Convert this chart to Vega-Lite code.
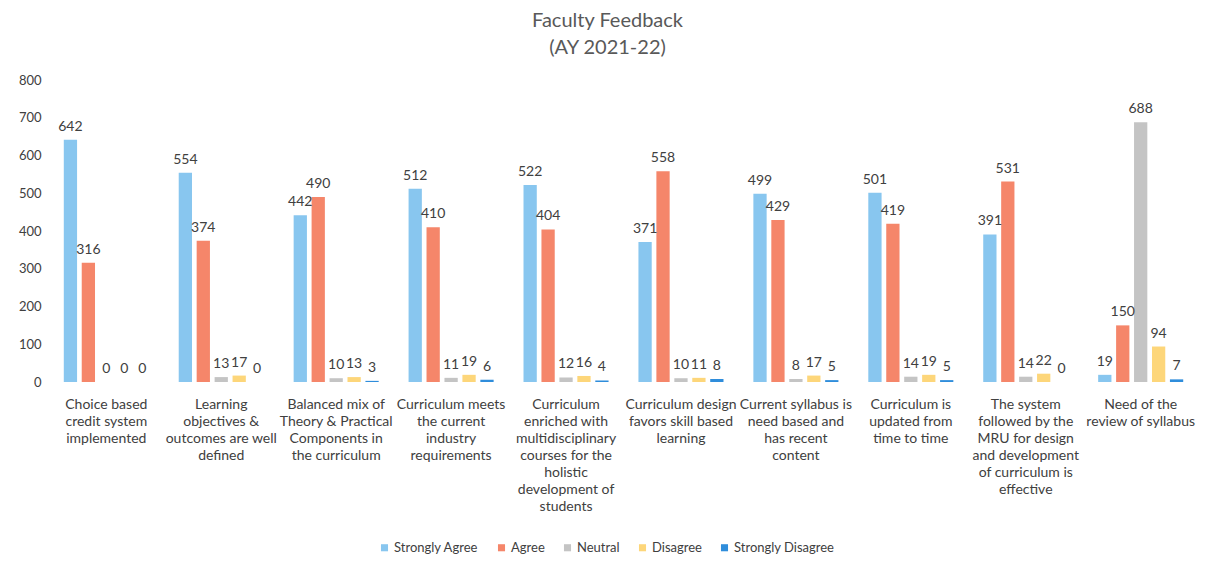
{
  "$schema": "https://vega.github.io/schema/vega-lite/v6.json",
  "autosize": "none",
  "width": 1147,
  "height": 302,
  "padding": {"left": 50, "top": 80, "right": 12, "bottom": 184},
  "background": "white",
  "title": {
    "text": ["Faculty Feedback", "(AY 2021-22)"],
    "fontSize": 20,
    "lineHeight": 27,
    "font": "Lato",
    "fontWeight": "normal",
    "color": "#595959",
    "anchor": "middle",
    "dx": -16,
    "offset": 16
  },
  "config": {
    "view": {"stroke": null},
    "font": "Lato"
  },
  "data": {
    "values": [
      {"q": "Choice based|credit system|implemented", "i": 1, "s": "Strongly Agree", "o": 1, "v": 642},
      {"q": "Choice based|credit system|implemented", "i": 1, "s": "Agree", "o": 2, "v": 316},
      {"q": "Choice based|credit system|implemented", "i": 1, "s": "Neutral", "o": 3, "v": 0},
      {"q": "Choice based|credit system|implemented", "i": 1, "s": "Disagree", "o": 4, "v": 0},
      {"q": "Choice based|credit system|implemented", "i": 1, "s": "Strongly Disagree", "o": 5, "v": 0},
      {"q": "Learning|objectives &|outcomes are well|defined", "i": 2, "s": "Strongly Agree", "o": 1, "v": 554},
      {"q": "Learning|objectives &|outcomes are well|defined", "i": 2, "s": "Agree", "o": 2, "v": 374},
      {"q": "Learning|objectives &|outcomes are well|defined", "i": 2, "s": "Neutral", "o": 3, "v": 13},
      {"q": "Learning|objectives &|outcomes are well|defined", "i": 2, "s": "Disagree", "o": 4, "v": 17},
      {"q": "Learning|objectives &|outcomes are well|defined", "i": 2, "s": "Strongly Disagree", "o": 5, "v": 0},
      {"q": "Balanced mix of|Theory & Practical|Components in|the curriculum", "i": 3, "s": "Strongly Agree", "o": 1, "v": 442},
      {"q": "Balanced mix of|Theory & Practical|Components in|the curriculum", "i": 3, "s": "Agree", "o": 2, "v": 490},
      {"q": "Balanced mix of|Theory & Practical|Components in|the curriculum", "i": 3, "s": "Neutral", "o": 3, "v": 10},
      {"q": "Balanced mix of|Theory & Practical|Components in|the curriculum", "i": 3, "s": "Disagree", "o": 4, "v": 13},
      {"q": "Balanced mix of|Theory & Practical|Components in|the curriculum", "i": 3, "s": "Strongly Disagree", "o": 5, "v": 3},
      {"q": "Curriculum meets|the  current|industry|requirements", "i": 4, "s": "Strongly Agree", "o": 1, "v": 512},
      {"q": "Curriculum meets|the  current|industry|requirements", "i": 4, "s": "Agree", "o": 2, "v": 410},
      {"q": "Curriculum meets|the  current|industry|requirements", "i": 4, "s": "Neutral", "o": 3, "v": 11},
      {"q": "Curriculum meets|the  current|industry|requirements", "i": 4, "s": "Disagree", "o": 4, "v": 19},
      {"q": "Curriculum meets|the  current|industry|requirements", "i": 4, "s": "Strongly Disagree", "o": 5, "v": 6},
      {"q": "Curriculum|enriched with|multidisciplinary|courses for the|holistic|development of|students", "i": 5, "s": "Strongly Agree", "o": 1, "v": 522},
      {"q": "Curriculum|enriched with|multidisciplinary|courses for the|holistic|development of|students", "i": 5, "s": "Agree", "o": 2, "v": 404},
      {"q": "Curriculum|enriched with|multidisciplinary|courses for the|holistic|development of|students", "i": 5, "s": "Neutral", "o": 3, "v": 12},
      {"q": "Curriculum|enriched with|multidisciplinary|courses for the|holistic|development of|students", "i": 5, "s": "Disagree", "o": 4, "v": 16},
      {"q": "Curriculum|enriched with|multidisciplinary|courses for the|holistic|development of|students", "i": 5, "s": "Strongly Disagree", "o": 5, "v": 4},
      {"q": "Curriculum design|favors skill based|learning", "i": 6, "s": "Strongly Agree", "o": 1, "v": 371},
      {"q": "Curriculum design|favors skill based|learning", "i": 6, "s": "Agree", "o": 2, "v": 558},
      {"q": "Curriculum design|favors skill based|learning", "i": 6, "s": "Neutral", "o": 3, "v": 10},
      {"q": "Curriculum design|favors skill based|learning", "i": 6, "s": "Disagree", "o": 4, "v": 11},
      {"q": "Curriculum design|favors skill based|learning", "i": 6, "s": "Strongly Disagree", "o": 5, "v": 8},
      {"q": "Current syllabus is|need based and|has recent|content", "i": 7, "s": "Strongly Agree", "o": 1, "v": 499},
      {"q": "Current syllabus is|need based and|has recent|content", "i": 7, "s": "Agree", "o": 2, "v": 429},
      {"q": "Current syllabus is|need based and|has recent|content", "i": 7, "s": "Neutral", "o": 3, "v": 8},
      {"q": "Current syllabus is|need based and|has recent|content", "i": 7, "s": "Disagree", "o": 4, "v": 17},
      {"q": "Current syllabus is|need based and|has recent|content", "i": 7, "s": "Strongly Disagree", "o": 5, "v": 5},
      {"q": "Curriculum is|updated from|time to time", "i": 8, "s": "Strongly Agree", "o": 1, "v": 501},
      {"q": "Curriculum is|updated from|time to time", "i": 8, "s": "Agree", "o": 2, "v": 419},
      {"q": "Curriculum is|updated from|time to time", "i": 8, "s": "Neutral", "o": 3, "v": 14},
      {"q": "Curriculum is|updated from|time to time", "i": 8, "s": "Disagree", "o": 4, "v": 19},
      {"q": "Curriculum is|updated from|time to time", "i": 8, "s": "Strongly Disagree", "o": 5, "v": 5},
      {"q": "The system|followed by the|MRU for design|and development|of curriculum is|effective", "i": 9, "s": "Strongly Agree", "o": 1, "v": 391},
      {"q": "The system|followed by the|MRU for design|and development|of curriculum is|effective", "i": 9, "s": "Agree", "o": 2, "v": 531},
      {"q": "The system|followed by the|MRU for design|and development|of curriculum is|effective", "i": 9, "s": "Neutral", "o": 3, "v": 14},
      {"q": "The system|followed by the|MRU for design|and development|of curriculum is|effective", "i": 9, "s": "Disagree", "o": 4, "v": 22},
      {"q": "The system|followed by the|MRU for design|and development|of curriculum is|effective", "i": 9, "s": "Strongly Disagree", "o": 5, "v": 0},
      {"q": "Need of the|review of syllabus", "i": 10, "s": "Strongly Agree", "o": 1, "v": 19},
      {"q": "Need of the|review of syllabus", "i": 10, "s": "Agree", "o": 2, "v": 150},
      {"q": "Need of the|review of syllabus", "i": 10, "s": "Neutral", "o": 3, "v": 688},
      {"q": "Need of the|review of syllabus", "i": 10, "s": "Disagree", "o": 4, "v": 94},
      {"q": "Need of the|review of syllabus", "i": 10, "s": "Strongly Disagree", "o": 5, "v": 7}
    ]
  },
  "encoding": {
    "x": {
      "field": "q",
      "type": "nominal",
      "sort": {"field": "i", "op": "min"},
      "scale": {"paddingInner": 0.26, "paddingOuter": 0.12},
      "axis": {
        "title": null,
        "labelAngle": 0,
        "labelExpr": "split(datum.value, '|')",
        "labelFontSize": 14,
        "labelLineHeight": 17,
        "labelColor": "#404040",
        "labelPadding": 15,
        "labelBaseline": "top",
        "labelLimit": 200,
        "ticks": false,
        "domain": false
      }
    },
    "xOffset": {
      "field": "s",
      "type": "nominal",
      "sort": {"field": "o", "op": "min"},
      "scale": {"paddingInner": 0.26}
    },
    "y": {
      "field": "v",
      "type": "quantitative",
      "scale": {"domain": [0, 800]},
      "axis": {
        "title": null,
        "values": [0, 100, 200, 300, 400, 500, 600, 700, 800],
        "grid": false,
        "domain": false,
        "ticks": false,
        "labelFontSize": 13,
        "labelColor": "#404040",
        "labelPadding": 9
      }
    }
  },
  "layer": [
    {
      "mark": {"type": "bar"},
      "encoding": {
        "color": {
          "field": "s",
          "type": "nominal",
          "sort": ["Strongly Agree", "Agree", "Neutral", "Disagree", "Strongly Disagree"],
          "scale": {
            "domain": ["Strongly Agree", "Agree", "Neutral", "Disagree", "Strongly Disagree"],
            "range": ["#88c6ef", "#f5866a", "#c4c4c4", "#fdd67a", "#2f8ddb"]
          },
          "legend": {
            "title": null,
            "orient": "none",
            "legendX": 328,
            "legendY": 461,
            "direction": "horizontal",
            "symbolType": "square",
            "symbolSize": 50,
            "symbolStrokeWidth": 0,
            "labelFontSize": 13,
            "labelColor": "#404040",
            "labelOffset": 3,
            "columnPadding": 16
          }
        }
      }
    },
    {
      "mark": {"type": "text", "baseline": "bottom", "dy": -6, "fontSize": 14, "color": "#404040"},
      "encoding": {
        "text": {"field": "v", "type": "quantitative"}
      }
    }
  ]
}
